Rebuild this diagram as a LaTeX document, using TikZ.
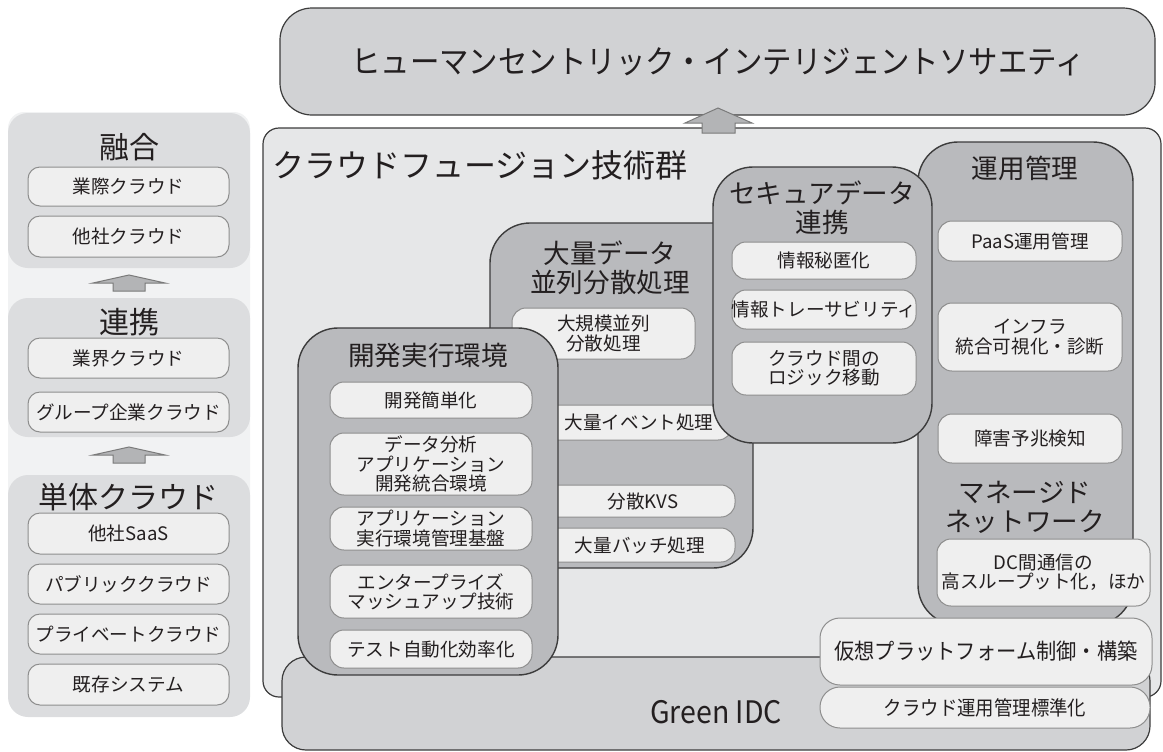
\documentclass[tikz,border=0pt]{standalone}
\usepackage{fontspec}
\setmainfont{Noto Sans CJK JP}
\newfontfamily\cjkcond[FakeStretch=0.92]{Noto Sans CJK JP}
\usetikzlibrary{fit}
\definecolor{txt}{HTML}{231F20}
\definecolor{lpanel}{HTML}{F1F2F3}
\definecolor{lgroup}{HTML}{DCDDDF}
\definecolor{subfill}{HTML}{EFEFEF}
\definecolor{subline}{HTML}{8E8E8E}
\definecolor{topfill}{HTML}{D1D2D4}
\definecolor{panelfill}{HTML}{E6E7E8}
\definecolor{grpfill}{HTML}{B9BABD}
\definecolor{edge}{HTML}{3C3C3C}
\definecolor{arrfill}{HTML}{B3B4B6}
\definecolor{arrline}{HTML}{7A7A7A}
\tikzset{
  every node/.style={text=txt},
  lgrp/.style={fill=lgroup, draw=none, rounded corners=10pt, inner sep=0pt},
  lsub/.style={fill=subfill, draw=subline, line width=0.5pt, rounded corners=6pt, inner sep=0pt},
  ltitle/.style={font=\fontsize{15}{17}\selectfont, inner sep=0pt},
  grp/.style={fill=grpfill, draw=edge, line width=0.7pt, rounded corners=20pt, inner sep=0pt},
  gtitle/.style={font=\fontsize{13.3}{14.5}\selectfont, align=center, inner sep=0pt},
  sub/.style={fill=subfill, draw=subline, line width=0.5pt, rounded corners=7pt, inner sep=0pt},
  subtext/.style={font=\fontsize{9.3}{9.6}\selectfont, align=center, inner sep=0pt, text=txt},
  tx/.style={label={[subtext]center:{#1}}},
  bigsub/.style={fill=subfill, draw=subline, line width=0.5pt, rounded corners=10pt, inner sep=0pt},
  bigtext/.style={font=\cjkcond\fontsize{11}{12}\selectfont, inner sep=0pt, text=txt},
  btx/.style={label={[bigtext]center:{#1}}},
  blockarrow/.style={fill=arrfill, draw=arrline, line width=0.5pt},
}
\begin{document}
\begin{tikzpicture}[x=0.5pt, y=-0.5pt]
\useasboundingbox (0,0) rectangle (1163,751);
% ---------- left column ----------
\node[fill=lpanel, rounded corners=8pt, inner sep=0pt, fit={(8,112) (250,688)}] (lpanel) {};
\node[lgrp, fit={(8,113) (250,268)}] (g1) {};
\node[ltitle] (g1t) at (129,147) {融合};
\node[lsub, fit={(28,167) (229,206)}, tx={業際クラウド}] (g1a) {};
\node[lsub, fit={(28,216) (229,257)}, tx={他社クラウド}] (g1b) {};
\draw[blockarrow] (93,283) -- (129,275) -- (165,283) -- (145,283) -- (145,291) -- (113,291) -- (113,283) -- cycle;
\node[lgrp, fit={(8,298) (250,437)}] (g2) {};
\node[ltitle] (g2t) at (129,322) {連携};
\node[lsub, fit={(28,338) (229,378)}, tx={業界クラウド}] (g2a) {};
\node[lsub, fit={(28,392) (229,432)}, tx={グループ企業クラウド}] (g2b) {};
\draw[blockarrow] (93,455) -- (129,447) -- (165,455) -- (145,455) -- (145,463) -- (113,463) -- (113,455) -- cycle;
\node[lgrp, fit={(8,475) (250,717)}] (g3) {};
\node[ltitle] (g3t) at (129,497) {単体クラウド};
\node[lsub, fit={(28,513) (229,554)}, tx={他社SaaS}] (g3a) {};
\node[lsub, fit={(28,564) (229,604)}, tx={パブリッククラウド}] (g3b) {};
\node[lsub, fit={(28,614) (229,654)}, tx={プライベートクラウド}] (g3c) {};
\node[lsub, fit={(28,664) (229,705)}, tx={既存システム}] (g3d) {};
% ---------- top box ----------
\node[fill=topfill, draw=edge, line width=0.6pt, rounded corners=16pt, inner sep=0pt,
  fit={(280,8) (1155,115)}] (society) {};
\node[inner sep=0pt, font=\cjkcond\fontsize{16}{18}\selectfont] (societyt) at (718,62) {ヒューマンセントリック・インテリジェントソサエティ};
% ---------- big panel ----------
\node[fill=panelfill, draw=edge, line width=0.6pt, rounded corners=8pt, inner sep=0pt,
  fit={(263,128) (1161,697)}] (panel) {};
\node[anchor=west, inner sep=0pt, font=\fontsize{16}{18}\selectfont] (panelt) at (272,165) {クラウドフュージョン技術群};
\draw[blockarrow] (685,123) -- (718,108) -- (752,123) -- (735,123) -- (735,133) -- (702,133) -- (702,123) -- cycle;
% ---------- Green IDC ----------
\node[fill=topfill, draw=edge, line width=0.6pt, rounded corners=12pt, inner sep=0pt,
  fit={(282,657) (1150,750)}] (idc) {};
\node[inner sep=0pt, font=\cjkcond\fontsize{15.5}{17}\selectfont] (idct) at (716,712) {Green IDC};
% ---------- operations ----------
\node[grp, fit={(918,142) (1133,625)}] (ops) {};
\node[gtitle] (opst) at (1025,168) {運用管理};
\node[sub, fit={(938,221) (1122,261)}, tx={PaaS運用管理}] (ops1) {};
\node[sub, fit={(938,303) (1122,371)}, tx={インフラ\\統合可視化・診断}] (ops2) {};
\node[sub, fit={(938,414) (1122,463)}, tx={障害予兆検知}] (ops3) {};
\node[gtitle] (nett) at (1025,507) {マネージド\\ネットワーク};
\node[sub, fit={(937,539) (1150,606)}, tx={DC間通信の\\高スループット化，ほか}] (net1) {};
% ---------- big data ----------
\node[grp, fit={(490,223) (753,568)}] (bd) {};
\node[gtitle] (bdt) at (610,268) {大量データ\\並列分散処理};
\node[sub, fit={(512,308) (695,359)}, tx={大規模並列\\分散処理}] (bd1) {};
\node[sub, fit={(512,405) (732,440)}] (bd2) {};
\node[subtext] (bd2t) at (639,422) {大量イベント処理};
\node[sub, fit={(512,485) (735,517)}] (bd3) {};
\node[subtext] (bd3t) at (643,501) {分散KVS};
\node[sub, fit={(512,528) (735,562)}] (bd4) {};
\node[subtext] (bd4t) at (640,545) {大量バッチ処理};
% ---------- development ----------
\node[grp, fit={(298,328) (558,675)}] (dev) {};
\node[gtitle] (devt) at (428,355) {開発実行環境};
\node[sub, fit={(330,382) (532,418)}, tx={開発簡単化}] (dev1) {};
\node[sub, fit={(330,433) (532,495)}, tx={データ分析\\アプリケーション\\開発統合環境}] (dev2) {};
\node[sub, fit={(330,507) (532,550)}, tx={アプリケーション\\実行環境管理基盤}] (dev3) {};
\node[sub, fit={(330,565) (532,618)}, tx={エンタープライズ\\マッシュアップ技術}] (dev4) {};
\node[sub, fit={(330,630) (532,668)}, tx={テスト自動化効率化}] (dev5) {};
% ---------- secure data ----------
\node[grp, fit={(713,167) (932,443)}] (sec) {};
\node[gtitle] (sect) at (822,208) {セキュアデータ\\連携};
\node[sub, fit={(732,242) (916,279)}, tx={情報秘匿化}] (sec1) {};
\node[sub, fit={(732,290) (916,329)}, tx={情報トレーサビリティ}] (sec2) {};
\node[sub, fit={(732,342) (916,395)}, tx={クラウド間の\\ロジック移動}] (sec3) {};
% ---------- platform boxes ----------
\node[bigsub, fit={(820,618) (1152,685)}, btx={仮想プラットフォーム制御・構築}] (pf1) {};
\node[bigsub, fit={(820,687) (1150,728)}, label={[bigtext, font=\cjkcond\fontsize{10}{11}\selectfont]center:{クラウド運用管理標準化}}] (pf2) {};
\end{tikzpicture}
\end{document}
